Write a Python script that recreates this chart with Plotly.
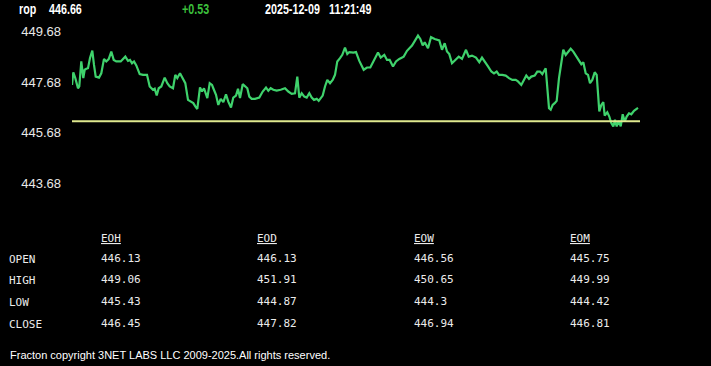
import plotly.graph_objects as go

# ---------------- data ----------------
symbol = "rop"
last_price = 446.66
change = "+0.53"
date_str = "2025-12-09"
time_str = "11:21:49"
open_price = 446.13

t = [0, 1.3, 3.3, 6, 7.3, 9.3, 11.3, 12.7, 14.3, 16, 18, 20.3, 22, 23.7, 27, 29.3, 32, 34.3, 36.7, 39.3,
     41.7, 44.3, 48.7, 51, 53.3, 56, 58, 60, 62, 64.3, 67.7, 71, 75, 77.7, 81, 82.7, 84.7, 86.7, 89.3, 92.7,
     95.3, 97.7, 101, 103.3, 105.3, 108, 110.3, 113.3, 116, 118.7, 121.3, 123.3, 125.3, 128, 130, 132, 135.3, 137.7, 140,
     141.3, 144, 146.3, 148.7, 151.3, 154, 156.3, 159, 161.3, 164, 166, 168, 170.7, 173, 175.3, 177.3, 179.7, 183, 187.3,
     190.7, 194, 196.3, 198.7, 201.3, 204.7, 208.7, 213, 216.3, 219.7, 223, 225.3, 227.3, 229.7, 232.3, 234.7, 237.3,
     239.7, 242, 244.7, 246.7, 248.7, 250.7, 253, 255.3, 258, 260.7, 263, 265.3, 268, 270.3, 273, 275.3, 277.3, 281.3,
     284, 287.3, 291.7, 295, 298.3, 301.7, 306, 308.7, 312.3, 315, 317.7, 321, 324, 327.3, 331.7, 335, 340, 346, 348.3,
     350.7, 352.7, 356, 359, 362.7, 367.3, 370, 372.7, 375, 377.3, 380, 383.3, 386.7, 390, 394, 396.7, 400, 404, 407.3,
     410, 413.3, 416, 419.3, 422, 424.7, 427, 430.3, 433.7, 437, 440.3, 443.7, 446, 449.3, 452, 454.3, 457, 459.3,
     462.7, 465.3, 468, 470.3, 473.7, 475.3, 477, 478.7, 480.7, 482.7, 484.7, 487, 489.3, 491.3, 493.7, 496, 498.7,
     501.3, 503.7, 507, 509.3, 511.3, 513.7, 516, 518, 520.3, 522.7, 524.7, 526, 527.3, 529.3, 531.3, 532.7, 535.3,
     537.3, 539.3, 541.3, 543, 544.7, 546.7, 548.7, 550.7, 552.7, 554.7, 557, 559.3, 562, 566]

price = [447.57, 448.07, 447.84, 447.44, 447.51, 448.50, 447.84, 448.17, 448.21, 448.23, 448.63, 448.93, 448.36, 447.90,
         447.86, 448.03, 448.60, 448.50, 448.59, 448.89, 448.56, 448.50, 448.50, 448.60, 448.69, 448.52, 448.56, 448.43,
         448.50, 448.34, 448.00, 447.97, 447.97, 447.51, 447.38, 447.42, 447.15, 447.44, 447.51, 447.86, 447.64, 447.51,
         447.44, 447.97, 447.84, 448.03, 447.84, 447.64, 446.98, 446.91, 446.85, 446.72, 446.62, 447.47, 447.31, 447.44,
         447.05, 447.64, 447.57,
         447.44, 447.18, 446.78, 447.02, 446.89, 447.20, 446.91, 446.68, 447.07, 447.15, 447.42, 447.05, 447.60, 447.51,
         447.44, 447.11, 447.02, 447.02, 447.07, 447.31, 447.47, 447.34, 447.44, 447.38, 447.35, 447.38, 447.44, 447.31,
         447.22, 447.24, 447.90, 447.07, 447.24, 447.11, 447.07, 447.24, 447.07, 446.98, 447.02, 446.94, 447.07, 447.15,
         447.51, 447.77, 447.64, 447.77, 447.97, 448.50, 448.63, 448.76, 449.05, 448.79, 448.87, 448.85,
         448.87, 448.52, 448.17, 448.26, 448.26, 448.52, 448.85, 448.65, 448.76, 448.56, 448.56, 448.30, 448.50, 448.60,
         448.69, 448.92, 449.13, 449.52, 449.39, 449.13, 449.26, 449.02, 449.46, 449.39, 449.33, 448.96, 449.22, 448.89,
         448.79, 448.43, 448.56, 448.69, 448.60, 448.96, 448.69, 448.73, 448.65, 448.47, 448.65, 448.43, 448.30, 448.10,
         448.03, 448.10, 447.97, 447.97, 447.94, 447.84, 447.77, 447.77, 447.71, 447.57, 447.77, 447.94, 447.81, 447.90,
         447.94, 448.10, 448.10, 448.00, 448.23, 447.51, 446.65, 446.59, 446.78, 446.85, 446.94, 447.84, 448.50, 448.96,
         448.76, 448.87, 449.00, 448.89, 448.73, 448.52, 448.39, 448.47, 448.03, 447.97, 447.64, 447.77, 448.07, 447.97,
         447.31, 446.52, 446.78, 446.89, 446.36, 446.49, 446.32, 446.06, 445.93, 446.19, 445.93, 446.15, 445.93, 446.41,
         446.12, 446.32, 446.45, 446.41, 446.55, 446.66]

baseline_t = [0, 568]

y_ticks = [443.68, 445.68, 447.68, 449.68]
y_tick_labels = ["443.68", "445.68", "447.68", "449.68"]

table_cols = ["EOH", "EOD", "EOW", "EOM"]
table_rows = ["OPEN", "HIGH", "LOW", "CLOSE"]
eoh = ["446.13", "449.06", "445.43", "446.45"]
eod = ["446.13", "451.91", "444.87", "447.82"]
eow = ["446.56", "450.65", "444.3", "446.94"]
eom = ["445.75", "449.99", "444.42", "446.81"]

footer = "Fracton copyright 3NET LABS LLC 2009-2025.All rights reserved."

# ---------------- layout geometry ----------------
W, H = 711, 366
L, R, T, B = 72, 71, 24, 166
PW, PH = W - L - R, H - T - B


def px(x):
    return (x - L) / PW


def py(y):
    return 1 - (y - T) / PH


fig = go.Figure()
fig.add_trace(go.Scatter(x=t, y=price, mode="lines",
                         line=dict(color="#3fd26c", width=2.2), hoverinfo="skip"))
fig.add_trace(go.Scatter(x=baseline_t, y=[open_price, open_price], mode="lines",
                         line=dict(color="#dfe88e", width=2), hoverinfo="skip"))

ann = []
hdr_font = dict(family="Liberation Sans, Arial", size=14.5, color="#ffffff")
for txt, x, col in [(symbol, 17, "#ffffff"), (f"{last_price:.2f}", 47, "#ffffff"), (change, 180, "#3cbf3c"),
                    (date_str, 263, "#ffffff"), (time_str, 327, "#ffffff")]:
    f = dict(hdr_font)
    f["color"] = col
    ann.append(dict(text=f"<b>{txt}</b>", x=px(x), y=py(9), xref="paper", yref="paper",
                    xanchor="left", yanchor="middle", showarrow=False, font=f))

mono = dict(family="DejaVu Sans Mono, Liberation Mono, monospace", size=11, color="#ececec")
col_x = [99, 255, 412, 568]
row_y = [259, 280, 302, 324]
for cx, name, vals in zip(col_x, table_cols, [eoh, eod, eow, eom]):
    ann.append(dict(text=f"<u>{name}</u>", x=px(cx), y=py(238.5), xref="paper", yref="paper",
                    xanchor="left", yanchor="middle", showarrow=False, font=mono))
    for ry, v in zip(row_y, vals):
        ann.append(dict(text=v, x=px(cx), y=py(ry - 0.5), xref="paper", yref="paper",
                        xanchor="left", yanchor="middle", showarrow=False, font=mono))
for ry, name in zip(row_y, table_rows):
    ann.append(dict(text=name, x=px(7), y=py(ry + 0.5), xref="paper", yref="paper",
                    xanchor="left", yanchor="middle", showarrow=False, font=mono))

ann.append(dict(text=footer, x=px(8), y=py(355), xref="paper", yref="paper",
                xanchor="left", yanchor="middle", showarrow=False,
                font=dict(family="Liberation Sans, Arial", size=11, color="#ffffff")))

fig.update_layout(
    width=W, height=H,
    margin=dict(l=L, r=R, t=T, b=B, pad=0),
    paper_bgcolor="#000000", plot_bgcolor="#000000",
    showlegend=False,
    xaxis=dict(range=[0, 568], visible=False, fixedrange=True),
    yaxis=dict(range=[443.02, 449.98], tickvals=y_ticks, ticktext=y_tick_labels,
               showgrid=False, zeroline=False, showline=False, ticks="",
               ticklabelstandoff=10,
               tickfont=dict(family="Liberation Sans, Arial", size=13, color="#e8e8e8"),
               fixedrange=True),
    annotations=ann,
)

# remove default page margin; condense the bold header texts horizontally (narrow header font)
post_js = """
document.body.style.margin = '0';
document.body.style.background = '#000';
var gd = document.getElementById('{plot_id}');
gd.querySelectorAll('g.annotation').forEach(function (g) {
  var i = +g.getAttribute('data-index');
  if (i < 5) {
    var tx = g.querySelector('text.annotation-text');
    if (tx) {
      tx.style.transformBox = 'fill-box';
      tx.style.transformOrigin = '0% 50%';
      tx.style.transform = 'scaleX(0.74)';
    }
  }
});
"""

fig.write_html("out.html", config={"displayModeBar": False}, post_script=post_js)
